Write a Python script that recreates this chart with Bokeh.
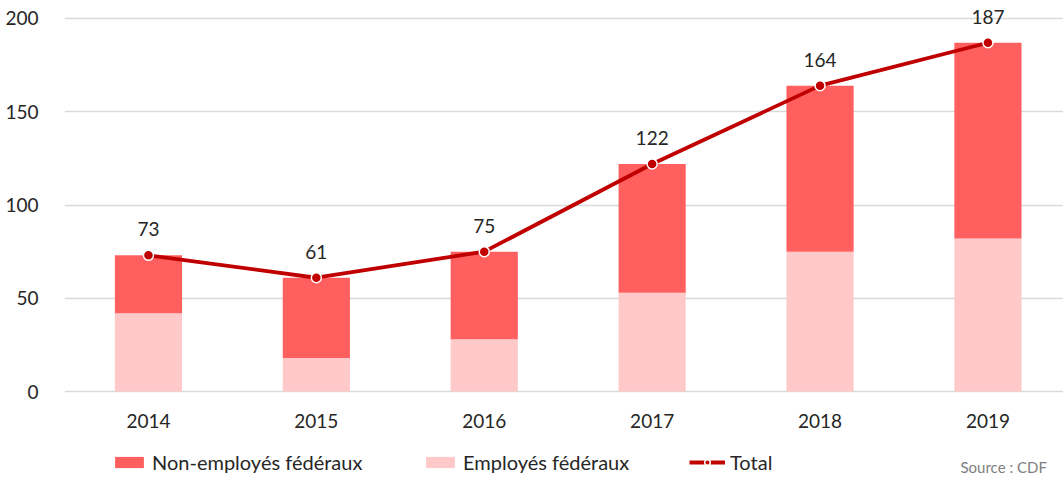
from bokeh.plotting import figure
from bokeh.models import ColumnDataSource, Range1d, FixedTicker, Legend, LegendItem, Label
from bokeh.embed import file_html
from bokeh.resources import INLINE
from bokeh.core.properties import value

years = [2014, 2015, 2016, 2017, 2018, 2019]
employes = [42, 18, 28, 53, 75, 82]
non_employes = [31, 43, 47, 69, 89, 105]
total = [73, 61, 75, 122, 164, 187]
y_ticks = [0, 50, 100, 150, 200]

FONT = "Lato"
TXT = "#262626"
src = ColumnDataSource(dict(
    x=years, emp=employes, non=non_employes, total=total,
    lbl=[str(t) for t in total], yr=[str(y) for y in years],
    zero=[0] * len(years),
))

p = figure(width=1063, height=477, output_backend="svg", toolbar_location=None,
           x_range=Range1d(2013.5, 2019.45), y_range=Range1d(-46.1, 209.65),
           min_border_left=64, min_border_right=0, min_border_top=0, min_border_bottom=0)
p.outline_line_color = None
p.background_fill_color = "white"

bars = p.vbar_stack(["emp", "non"], x="x", width=0.4, source=src,
                    color=["#FFC9C9", "#FF5F5F"], line_color=None)
ln = p.line("x", "total", source=src, line_color="#C00000", line_width=3.8)
pts = p.scatter("x", "total", source=src, size=10, fill_color="#C00000",
                line_color="white", line_width=1.5)
p.text("x", "total", text="lbl", source=src, y_offset=-26,
       text_align="center", text_baseline="middle", text_font=value(FONT),
       text_font_size="19px", text_color=TXT)
# category (year) labels under the baseline
p.text("x", "zero", text="yr", source=src, y_offset=29,
       text_align="center", text_baseline="middle", text_font=value(FONT),
       text_font_size="19px", text_color=TXT)

# axes
p.xaxis.visible = False
p.yaxis.ticker = FixedTicker(ticks=y_ticks)
ax = p.yaxis[0]
ax.axis_line_color = None
ax.major_tick_line_color = None
ax.minor_tick_line_color = None
ax.major_label_text_font = FONT
ax.major_label_text_font_size = "19px"
ax.major_label_text_color = TXT
ax.major_label_standoff = 20
p.xgrid.grid_line_color = None
p.ygrid.ticker = FixedTicker(ticks=y_ticks)
p.ygrid.grid_line_color = "#D9D9D9"
p.ygrid.grid_line_width = 1.5

def make_legend(label, renderers, x):
    lg = Legend(items=[LegendItem(label=label, renderers=renderers)],
                orientation="horizontal", location=(x, 3),
                glyph_width=36, glyph_height=14, label_standoff=5,
                label_text_font=FONT, label_text_font_size="20px",
                label_text_color=TXT, border_line_color=None,
                background_fill_alpha=0, padding=4, margin=0)
    p.add_layout(lg, "center")

make_legend("Non-employés fédéraux", [bars[1]], 47)
make_legend("Employés fédéraux", [bars[0]], 358)
make_legend("Total", [ln, pts], 625)

src_lbl = Label(x=896, y=20, x_units="screen", y_units="screen",
                text="Source : CDF", text_font=FONT, text_font_size="15px",
                text_baseline="top", text_color="#7F7F7F")
p.add_layout(src_lbl)

open("out.html", "w").write(file_html(p, INLINE))
